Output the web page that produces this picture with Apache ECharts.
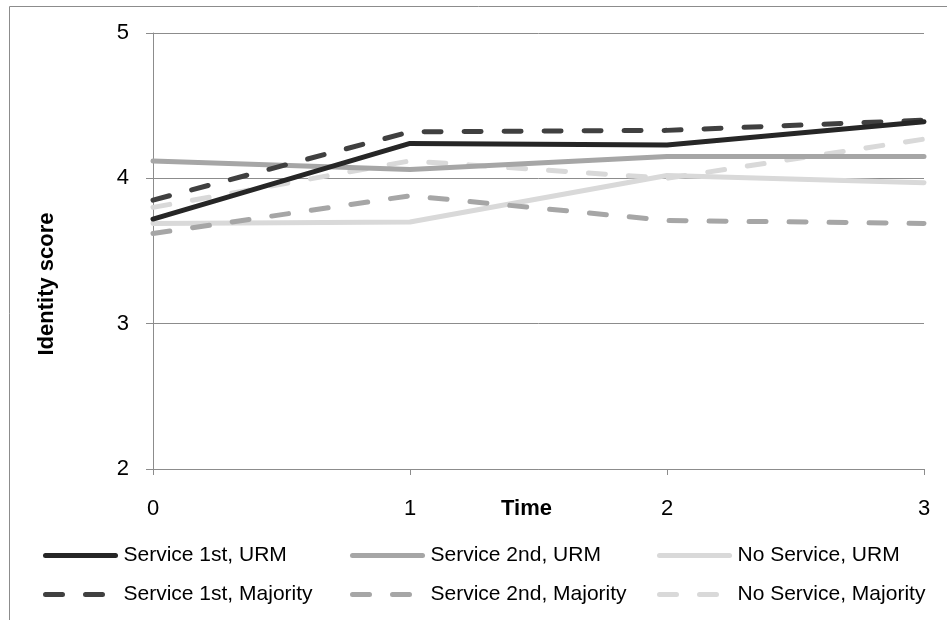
<!DOCTYPE html>
<html>
<head>
<meta charset="utf-8">
<script src="https://cdn.jsdelivr.net/npm/echarts@6/dist/echarts.min.js"></script>
<style>
  html, body { margin: 0; padding: 0; background: #ffffff; }
  #chart { width: 947px; height: 620px; }
</style>
</head>
<body>
<div id="chart"></div>
<script>
// Time points and tick labels
const timePoints = [0, 1, 2, 3];
const yTicks = [2, 3, 4, 5];

// Identity score per group at each time point
const service1stURM = [3.72, 4.24, 4.23, 4.39];
const service2ndURM = [4.12, 4.06, 4.15, 4.15];
const noServiceURM = [3.69, 3.70, 4.02, 3.97];
const service1stMajority = [3.85, 4.32, 4.33, 4.40];
const service2ndMajority = [3.62, 3.88, 3.71, 3.69];
const noServiceMajority = [3.80, 4.12, 4.00, 4.27];

const seriesNames = [
  'Service 1st, URM', 'Service 2nd, URM', 'No Service, URM',
  'Service 1st, Majority', 'Service 2nd, Majority', 'No Service, Majority'
];

const FONT = '"Liberation Sans", Arial, sans-serif';
const AXIS_GRAY = '#8c8c8c';

function pairs(values) {
  return timePoints.map((t, i) => [t, values[i]]);
}

function lineSeries(name, values, color, dashed) {
  return {
    name: name,
    type: 'line',
    data: pairs(values),
    symbol: 'none',
    smooth: false,
    animation: false,
    itemStyle: { color: color },
    lineStyle: {
      color: color,
      width: 5,
      type: dashed ? [17, 23] : 'solid',
      cap: 'round',
      join: 'round'
    },
    emphasis: { disabled: true }
  };
}

// One legend column per group: URM on top, Majority below
function legendColumn(left, names) {
  return {
    show: true,
    orient: 'vertical',
    left: left,
    top: 545,
    padding: 0,
    data: names,
    itemWidth: 70,
    itemHeight: 14,
    itemGap: 18,
    itemStyle: { opacity: 0 },
    lineStyle: { width: 5, cap: 'round' },
    textStyle: { fontFamily: FONT, fontSize: 21, color: '#000000', padding: [0, 0, 0, 3] },
    selectedMode: false
  };
}

const chart = echarts.init(document.getElementById('chart'), null, { renderer: 'canvas' });

chart.setOption({
  backgroundColor: '#ffffff',
  animation: false,
  grid: { left: 153, right: 23, top: 33, bottom: 151, containLabel: false },
  xAxis: {
    type: 'value',
    min: timePoints[0],
    max: timePoints[timePoints.length - 1],
    interval: 1,
    name: 'Time',
    nameLocation: 'middle',
    nameGap: 29,
    nameMoveOverlap: false,
    nameTextStyle: { fontFamily: FONT, fontSize: 22, fontWeight: 'bold', color: '#000000', padding: [0, 24, 0, 0] },
    axisLine: { show: true, onZero: false, lineStyle: { color: AXIS_GRAY, width: 1 } },
    axisTick: { show: true, inside: false, length: 6, lineStyle: { color: AXIS_GRAY } },
    axisLabel: { fontFamily: FONT, fontSize: 22, color: '#000000', margin: 29 },
    splitLine: { show: false }
  },
  yAxis: {
    type: 'value',
    min: yTicks[0],
    max: yTicks[yTicks.length - 1],
    interval: 1,
    axisLine: { show: true, onZero: false, lineStyle: { color: AXIS_GRAY, width: 1 } },
    axisTick: { show: true, inside: false, length: 7, lineStyle: { color: AXIS_GRAY } },
    axisLabel: { fontFamily: FONT, fontSize: 22, color: '#000000', margin: 24 },
    splitLine: { show: true, lineStyle: { color: AXIS_GRAY, width: 1 } }
  },
  legend: [
    legendColumn(43, [seriesNames[0], seriesNames[3]]),
    legendColumn(350, [seriesNames[1], seriesNames[4]]),
    legendColumn(657, [seriesNames[2], seriesNames[5]])
  ],
  graphic: [
    {
      type: 'rect',
      silent: true,
      shape: { x: 9.5, y: 6.5, width: 960, height: 640 },
      style: { fill: 'none', stroke: AXIS_GRAY, lineWidth: 1 },
      z: -10
    },
    {
      type: 'text',
      silent: true,
      x: 47,
      y: 284,
      rotation: Math.PI / 2,
      style: {
        text: 'Identity score',
        fontFamily: FONT,
        fontSize: 22,
        fontWeight: 'bold',
        fill: '#000000',
        align: 'center',
        verticalAlign: 'middle'
      }
    }
  ],
  series: [
    lineSeries(seriesNames[5], noServiceMajority, '#d9d9d9', true),
    lineSeries(seriesNames[2], noServiceURM, '#d9d9d9', false),
    lineSeries(seriesNames[4], service2ndMajority, '#a6a6a6', true),
    lineSeries(seriesNames[1], service2ndURM, '#a6a6a6', false),
    lineSeries(seriesNames[3], service1stMajority, '#404040', true),
    lineSeries(seriesNames[0], service1stURM, '#262626', false)
  ]
});
</script>
</body>
</html>
